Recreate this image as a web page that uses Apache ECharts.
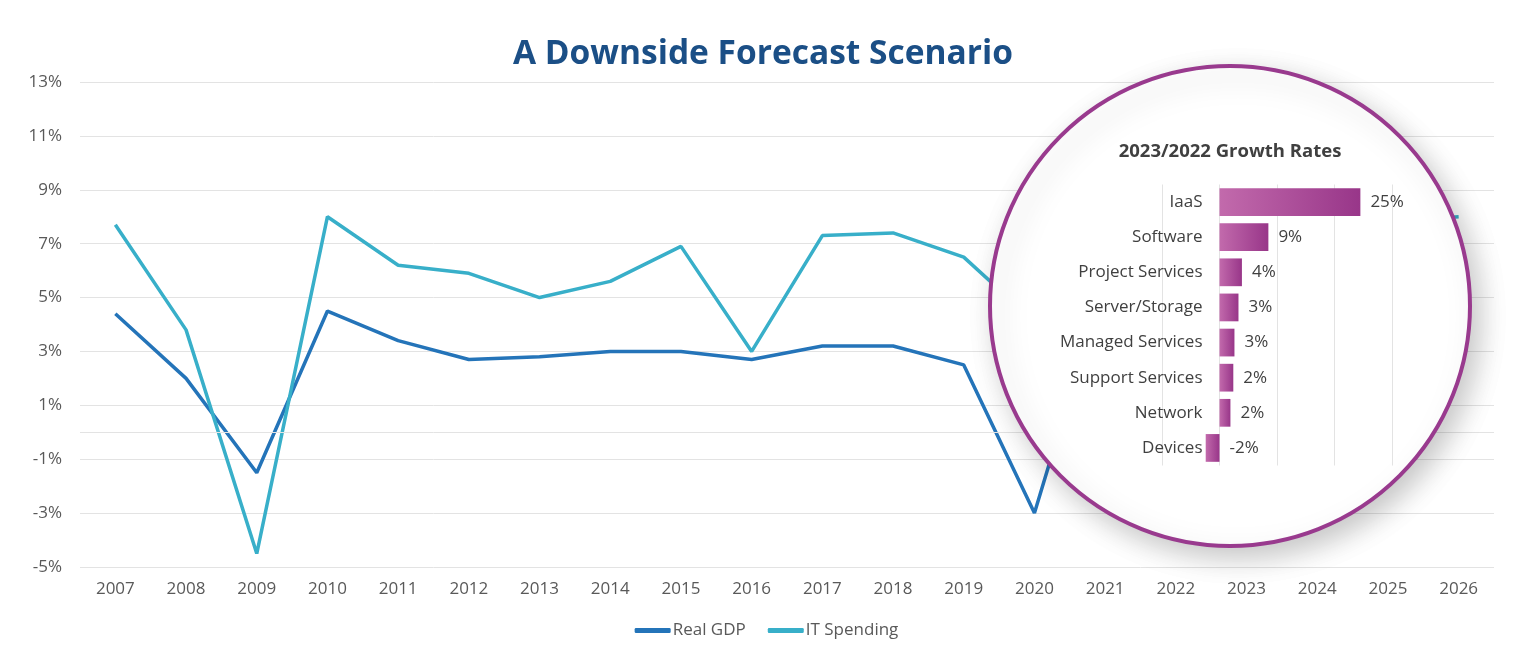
<!DOCTYPE html>
<html lang="en">
<head>
    <meta charset="UTF-8">
    <title>A Downside Forecast Scenario</title>
    <style>
        html, body { margin: 0; padding: 0; background: #fff; }
    </style>
</head>
<body>
    <div id="card" style="width: 1533px;height:655px;"></div>
    <script src="https://cdn.jsdelivr.net/npm/echarts@6/dist/echarts.min.js"></script>
    <script>
        // line chart data
        var years = ['2007', '2008', '2009', '2010', '2011', '2012', '2013', '2014', '2015', '2016',
            '2017', '2018', '2019', '2020', '2021', '2022', '2023', '2024', '2025', '2026'];
        var realGdp = [4.4, 2.0, -1.5, 4.5, 3.4, 2.7, 2.8, 3.0, 3.0, 2.7,
            3.2, 3.2, 2.5, -3.0, 5.7, 3.0, 2.2, 2.8, 2.9, 2.9];
        var itSpending = [7.7, 3.8, -4.5, 8.0, 6.2, 5.9, 5.0, 5.6, 6.9, 3.0,
            7.3, 7.4, 6.5, 4.1, 8.5, 7.0, 5.5, 7.4, 7.8, 8.0];

        // inset bar chart data
        var segments = ['IaaS', 'Software', 'Project Services', 'Server/Storage',
            'Managed Services', 'Support Services', 'Network', 'Devices'];
        var growthRates = [24.5, 8.5, 3.9, 3.3, 2.6, 2.4, 1.9, -2.4];

        var font = '"Open Sans", "Noto Sans", sans-serif';
        var card = document.querySelector('#card');

        var option = {
            backgroundColor: '#fff',
            textStyle: { fontFamily: font },
            animation: false,
            title: {
                text: 'A Downside Forecast Scenario',
                left: 508,
                top: 32,
                textStyle: {
                    fontSize: 33.5,
                    fontWeight: 'bold',
                    color: '#1b4f86',
                    fontFamily: font
                }
            },
            legend: {
                bottom: 11,
                left: 'center',
                itemWidth: 36,
                itemHeight: 5,
                itemGap: 22,
                icon: 'roundRect',
                textStyle: { color: '#595959', fontSize: 17, padding: [0, 0, 0, -3] },
                data: ['Real GDP', 'IT Spending']
            },
            grid: [
                { left: 80, right: 39, top: 82, bottom: 88 },
                { left: 1162, width: 230, top: 184.5, height: 281 }
            ],
            graphic: [
                {
                    type: 'circle',
                    z: 50,
                    shape: { cx: 1230, cy: 306, r: 240 },
                    style: {
                        fill: '#fff',
                        stroke: '#993a8e',
                        lineWidth: 4,
                        shadowBlur: 28,
                        shadowOffsetX: 8,
                        shadowOffsetY: 10,
                        shadowColor: 'rgba(0,0,0,0.22)'
                    }
                },
                {
                    type: 'text',
                    z: 100,
                    x: 1230,
                    y: 152,
                    style: {
                        text: '2023/2022 Growth Rates',
                        fill: '#404040',
                        font: 'bold 18.5px ' + font,
                        textAlign: 'center',
                        textVerticalAlign: 'middle'
                    }
                }
            ],
            xAxis: [
                {
                    type: 'category',
                    gridIndex: 0,
                    data: years,
                    boundaryGap: true,
                    axisLine: { show: false },
                    axisTick: { show: false },
                    axisLabel: { color: '#595959', fontSize: 17, margin: 14 }
                },
                {
                    type: 'value',
                    gridIndex: 1,
                    z: 60,
                    min: -10,
                    max: 30,
                    interval: 10,
                    axisLine: { show: false },
                    axisTick: { show: false },
                    axisLabel: { show: false },
                    splitLine: { lineStyle: { color: '#e3e3e3', width: 1 } }
                }
            ],
            yAxis: [
                {
                    type: 'value',
                    gridIndex: 0,
                    min: -5,
                    max: 13,
                    interval: 2,
                    axisLine: { show: false },
                    axisTick: { show: false },
                    axisLabel: {
                        color: '#595959',
                        fontSize: 17,
                        margin: 18,
                        formatter: function (v) { return v + '%'; }
                    },
                    splitLine: { lineStyle: { color: '#e3e3e3', width: 1 } }
                },
                {
                    type: 'category',
                    gridIndex: 1,
                    z: 60,
                    inverse: true,
                    offset: -57.5,
                    data: segments,
                    axisLine: { show: false },
                    axisTick: { show: false },
                    axisLabel: { color: '#404040', fontSize: 17, margin: 17 }
                }
            ],
            series: [
                {
                    name: 'Real GDP',
                    type: 'line',
                    xAxisIndex: 0,
                    yAxisIndex: 0,
                    data: realGdp,
                    symbol: 'none',
                    color: '#2474b9',
                    lineStyle: { width: 3.5, color: '#2474b9' },
                    markLine: {
                        silent: true,
                        symbol: 'none',
                        label: { show: false },
                        lineStyle: { color: '#e3e3e3', width: 1, type: 'solid' },
                        data: [{ yAxis: 0 }]
                    }
                },
                {
                    name: 'IT Spending',
                    type: 'line',
                    xAxisIndex: 0,
                    yAxisIndex: 0,
                    data: itSpending,
                    symbol: 'none',
                    color: '#38afc9',
                    lineStyle: { width: 3.5, color: '#38afc9' }
                },
                {
                    name: 'Growth',
                    type: 'bar',
                    xAxisIndex: 1,
                    yAxisIndex: 1,
                    z: 100,
                    data: growthRates,
                    barCategoryGap: '21%',
                    itemStyle: {
                        color: {
                            type: 'linear', x: 0, y: 0, x2: 1, y2: 0,
                            colorStops: [
                                { offset: 0, color: '#c26aac' },
                                { offset: 1, color: '#983689' }
                            ]
                        }
                    },
                    label: {
                        show: true,
                        position: 'right',
                        distance: 10,
                        color: '#404040',
                        fontSize: 17,
                        formatter: function (p) { return Math.round(p.value) + '%'; }
                    }
                }
            ]
        };

        var myChart = echarts.init(card);
        myChart.setOption(option);
    </script>
</body>
</html>
